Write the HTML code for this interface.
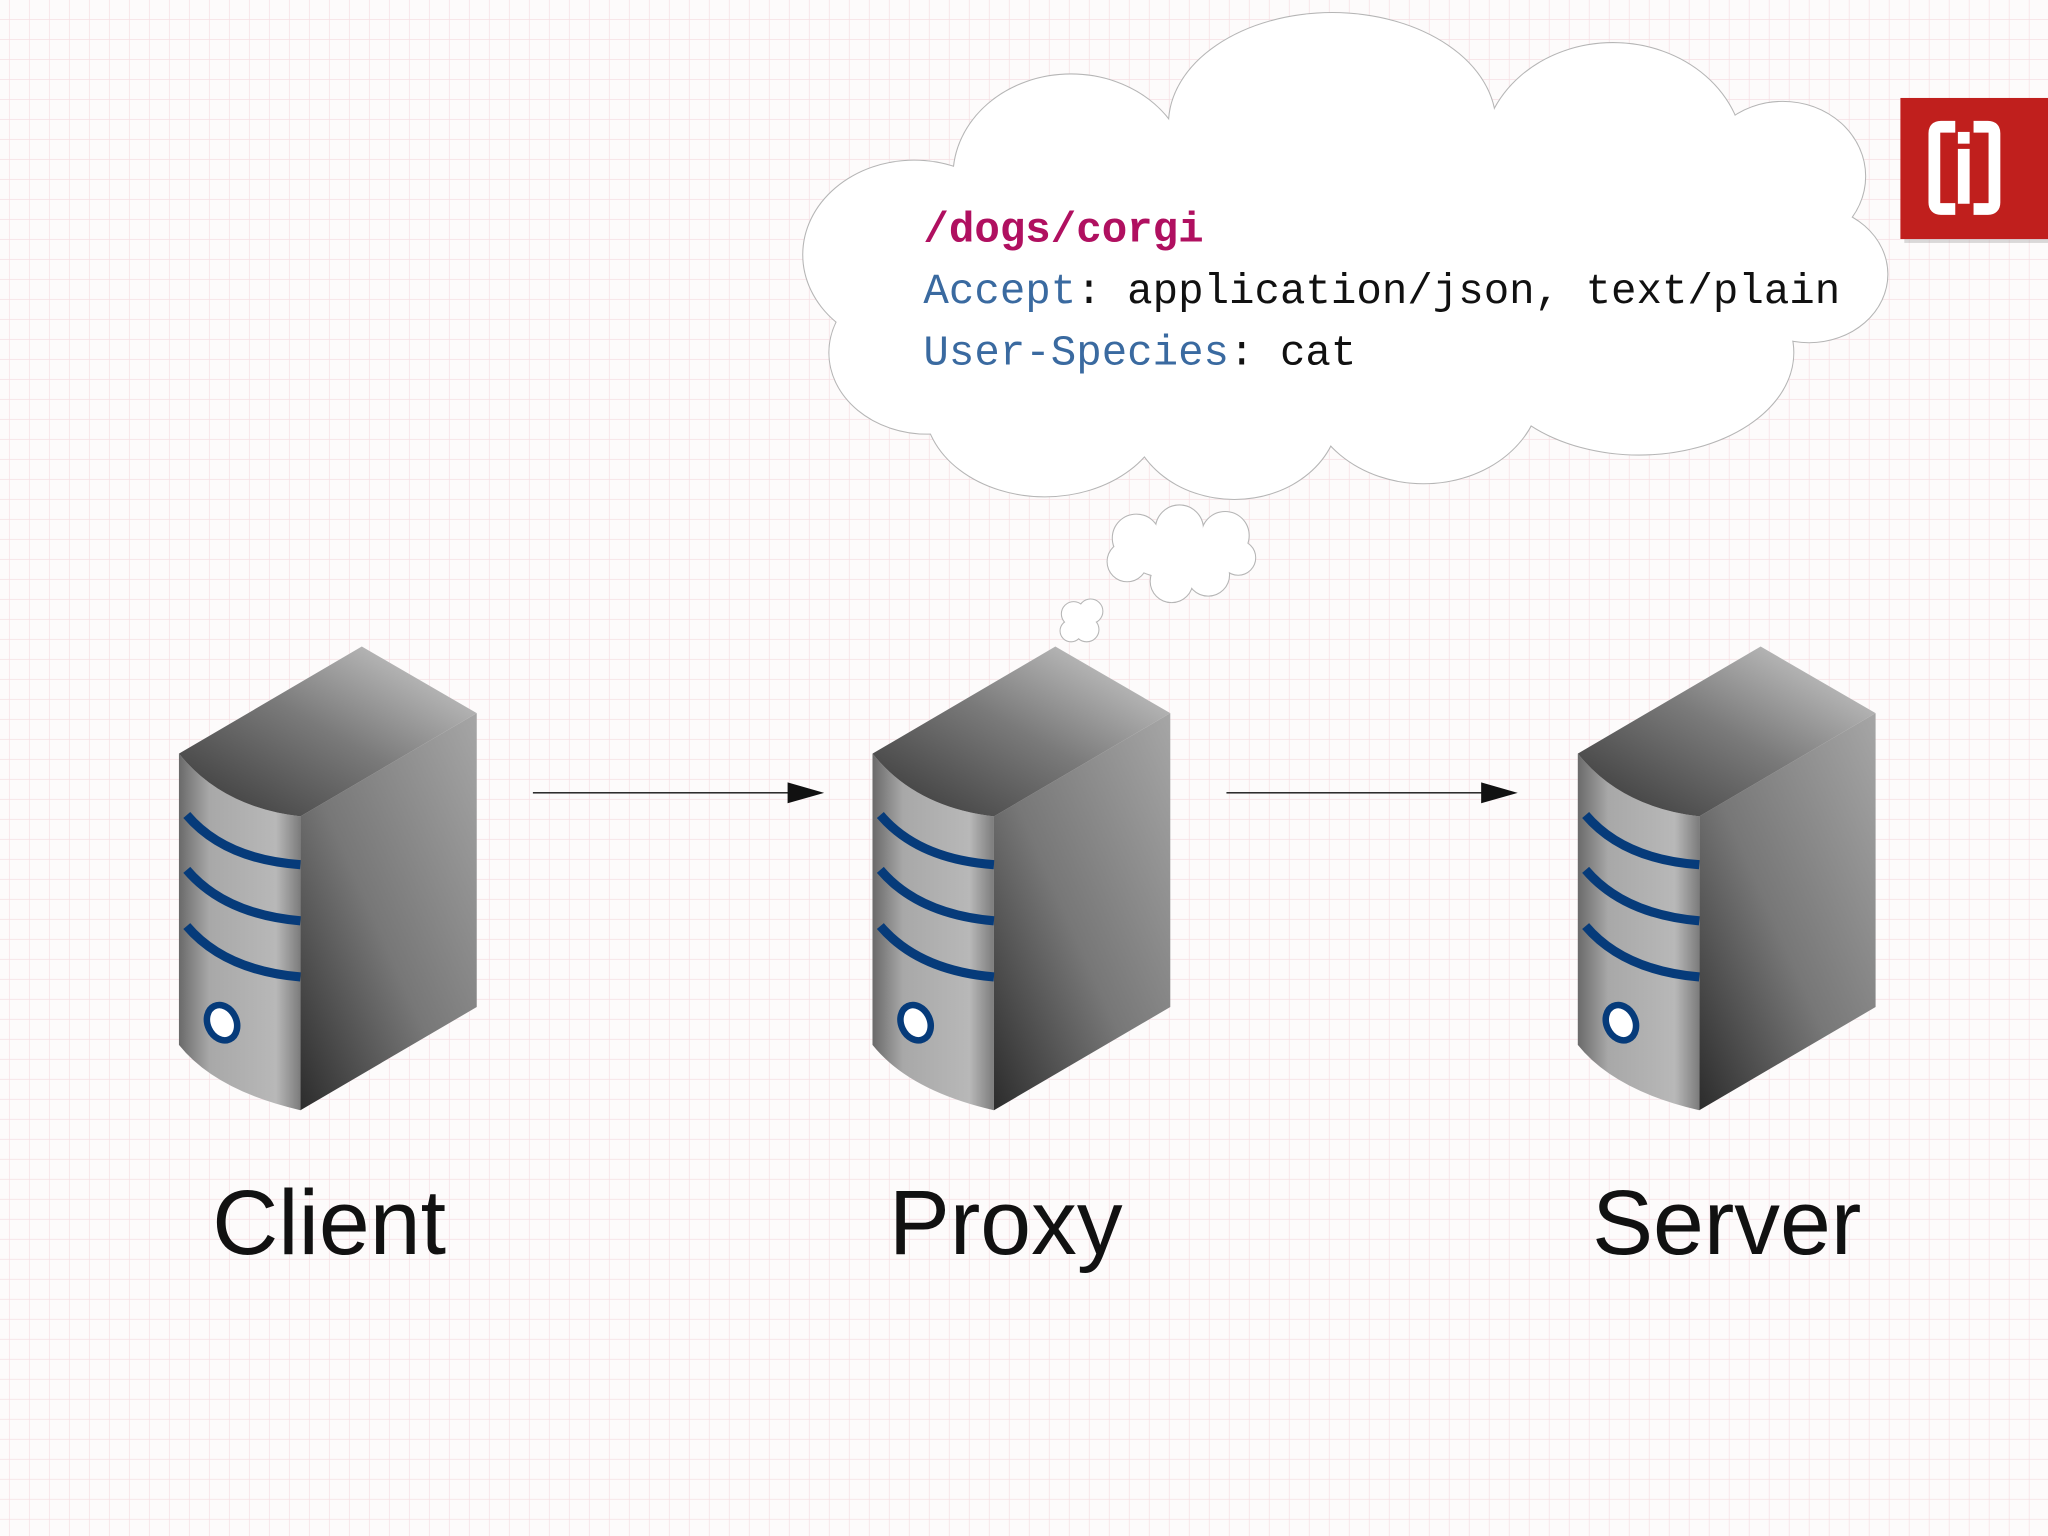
<!DOCTYPE html>
<html><head><meta charset="utf-8"><style>
html,body{margin:0;padding:0;width:2048px;height:1536px;overflow:hidden;background:#fdfbfb}
svg{display:block}
</style></head><body>
<svg width="2048" height="1536" viewBox="0 0 1568 1176" xmlns="http://www.w3.org/2000/svg">
<defs>
<pattern id="grid" x="7.6" y="0" width="15.31" height="15.31" patternUnits="userSpaceOnUse">
<path d="M15.31 0V15.31M0 15.31H15.31" stroke="#f6dfe3" stroke-width="1.1" fill="none"/>
</pattern>
<linearGradient id="top" x1="0" y1="1" x2="1" y2="0">
<stop offset="0" stop-color="#353535"/><stop offset="0.5" stop-color="#7a7a7a"/><stop offset="1" stop-color="#d6d6d6"/>
</linearGradient>
<linearGradient id="front" x1="0" y1="0" x2="1" y2="0">
<stop offset="0" stop-color="#6a6a6a"/><stop offset="0.25" stop-color="#a8a8a8"/><stop offset="0.8" stop-color="#b8b8b8"/><stop offset="1" stop-color="#7c7c7c"/>
</linearGradient>
<linearGradient id="side" x1="0" y1="1" x2="1" y2="0">
<stop offset="0" stop-color="#2c2c2c"/><stop offset="0.45" stop-color="#777"/><stop offset="1" stop-color="#a6a6a6"/>
</linearGradient>
<g id="srv">
<path d="M230 625 L365 546 L365 771 L230 850 Z" fill="url(#side)"/>
<path d="M137 577 Q170 618 230 625 L230 850 Q165 835 137 800 Z" fill="url(#front)"/>
<path d="M137 577 L277 495 L365 546 L230 625 Q170 618 137 577 Z" fill="url(#top)"/>
<g fill="none" stroke="#063b7a" stroke-width="7">
<path d="M143 624 Q172 658 230 662"/>
<path d="M143 666 Q172 700 230 705"/>
<path d="M143 709 Q172 743 230 748"/>
</g>
<ellipse cx="170" cy="783" rx="11" ry="14" transform="rotate(-25 170 783)" fill="#fff" stroke="#063b7a" stroke-width="5"/>
</g>
<g id="cb">
<ellipse cx="1020" cy="95" rx="125" ry="85"/><ellipse cx="820" cy="135" rx="90" ry="78"/><ellipse cx="1235" cy="120" rx="100" ry="87"/>
<ellipse cx="1365" cy="135" rx="63" ry="57"/><ellipse cx="1385" cy="210" rx="60" ry="52"/><ellipse cx="1255" cy="270" rx="118" ry="78"/>
<ellipse cx="1090" cy="295" rx="90" ry="75"/><ellipse cx="945" cy="315" rx="80" ry="67"/><ellipse cx="800" cy="310" rx="92" ry="70"/>
<ellipse cx="710" cy="270" rx="75" ry="62"/><ellipse cx="700" cy="195" rx="85" ry="72"/>
<ellipse cx="1020" cy="210" rx="330" ry="115"/>
<circle cx="870" cy="412" r="18"/><circle cx="903" cy="405" r="18"/><circle cx="938" cy="410" r="18"/>
<circle cx="948" cy="427" r="13"/><circle cx="925" cy="440" r="16"/><circle cx="897" cy="445" r="16"/>
<circle cx="863" cy="430" r="15"/><ellipse cx="903" cy="425" rx="40" ry="18"/>
<circle cx="822" cy="470" r="9"/><circle cx="835" cy="468" r="9"/><circle cx="832" cy="482" r="9"/><circle cx="820" cy="483" r="8"/>
</g>
</defs>
<rect width="1568" height="1176" fill="url(#grid)"/>
<use href="#cb" fill="#fff" stroke="#b5b5b5" stroke-width="1.6"/>
<use href="#cb" fill="#fff" stroke="none"/>
<g font-family="'Liberation Mono',monospace" font-size="32.5">
<text x="707" y="185" fill="#b01060" font-weight="bold">/dogs/corgi</text>
<text x="707" y="232"><tspan fill="#3a6aa0">Accept</tspan><tspan fill="#111">: application/json, text/plain</tspan></text>
<text x="707" y="279"><tspan fill="#3a6aa0">User-Species</tspan><tspan fill="#111">: cat</tspan></text>
</g>
<rect x="1458" y="78" width="110" height="108" fill="#999" opacity="0.35"/>
<rect x="1455" y="75" width="113" height="108" fill="#c01f1d"/>
<g fill="none" stroke="#fff" stroke-width="9">
<path d="M1497 97 H1486 Q1481 97 1481 102 V155 Q1481 160 1486 160 H1497"/>
<path d="M1511 97 H1522 Q1527 97 1527 102 V155 Q1527 160 1522 160 H1511"/>
</g>
<rect x="1499" y="101" width="9" height="9" fill="#fff"/>
<rect x="1499" y="114" width="9" height="42" fill="#fff"/>
<use href="#srv"/>
<use href="#srv" x="531"/>
<use href="#srv" x="1071"/>
<g stroke="#111" stroke-width="1">
<line x1="408" y1="607" x2="606" y2="607"/>
<line x1="939" y1="607" x2="1137" y2="607"/>
</g>
<polygon points="603,599 631,607 603,615" fill="#111"/>
<polygon points="1134,599 1162,607 1134,615" fill="#111"/>
<g font-family="'Liberation Sans',sans-serif" font-size="70" fill="#111" text-anchor="middle">
<text x="252" y="960">Client</text>
<text x="770" y="960">Proxy</text>
<text x="1322" y="960">Server</text>
</g>
</svg>
</body></html>
